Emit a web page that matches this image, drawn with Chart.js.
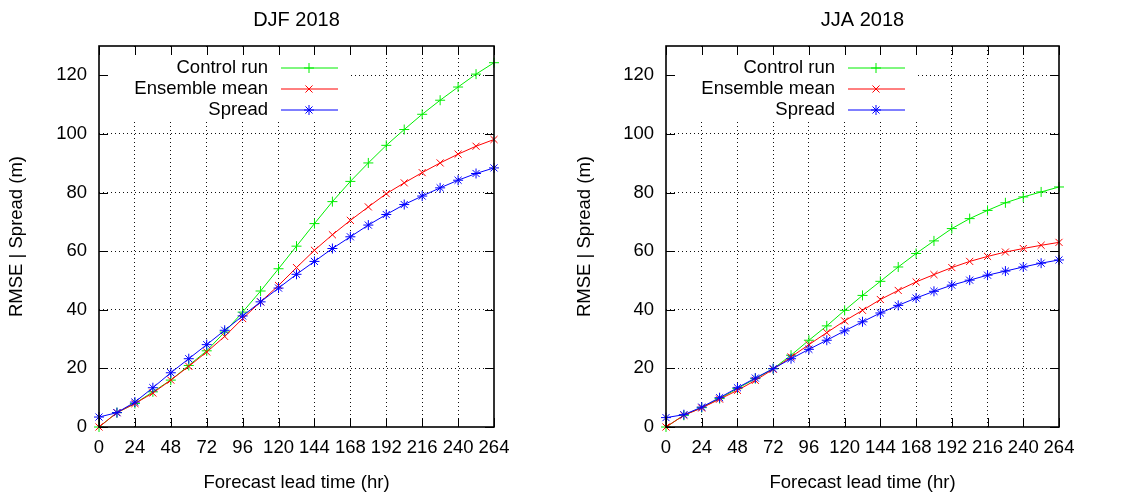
<!DOCTYPE html>
<html>
<head>
<meta charset="utf-8">
<script src="https://cdn.jsdelivr.net/npm/chart.js@4"></script>
<style>
  html, body { margin: 0; padding: 0; background: #fff; }
  #wrap { position: relative; width: 1123px; height: 498px; }
  canvas { position: absolute; top: 0; }
</style>
</head>
<body>
<div id="wrap">
  <canvas id="djf" width="560" height="498" style="left:0"></canvas>
  <canvas id="jja" width="563" height="498" style="left:560px"></canvas>
</div>
<script>
// forecast lead times (hr)
const leadHours = [0, 12, 24, 36, 48, 60, 72, 84, 96, 108, 120, 132, 144, 156, 168, 180, 192, 204, 216, 228, 240, 252, 264];
const xTickValues = [0, 24, 48, 72, 96, 120, 144, 168, 192, 216, 240, 264];
const yTickValues = [0, 20, 40, 60, 80, 100, 120];
const seriesNames = ['Control run', 'Ensemble mean', 'Spread'];

// DJF 2018
const djfControl = [0, 4.9, 8, 12, 16, 21, 26, 32.4, 39.2, 46.4, 54, 61.7, 69.4, 76.9, 83.8, 90.1, 96.1, 101.5, 106.7, 111.5, 116, 120.4, 124.3];
const djfEnsemble = [0, 4.9, 8, 11.6, 16, 20.7, 25.6, 30.9, 37, 42.7, 48.3, 54.4, 60.3, 65.6, 70.5, 75.1, 79.6, 83.3, 86.8, 90.1, 93.1, 95.8, 98.1];
const djfSpread = [3.4, 4.9, 8.5, 13.4, 18.5, 23.3, 28.1, 33, 37.9, 42.7, 47.4, 52.1, 56.5, 60.9, 64.9, 68.9, 72.5, 75.9, 78.8, 81.6, 84.2, 86.5, 88.4];

// JJA 2018
const jjaControl = [0, 4.0, 6.6, 9.7, 13.1, 16.5, 19.9, 24.5, 29.6, 34.5, 39.8, 44.9, 49.7, 54.6, 59.2, 63.5, 67.7, 71.1, 73.9, 76.5, 78.5, 80.2, 81.9];
const jjaEnsemble = [0, 4.0, 6.5, 9.5, 12.5, 15.9, 19.7, 23.9, 28.1, 32.2, 36.2, 39.8, 43.5, 46.6, 49.5, 52, 54.4, 56.5, 58.2, 59.7, 60.9, 62, 63];
const jjaSpread = [3.2, 4.2, 6.8, 10, 13.4, 16.7, 19.9, 23.3, 26.5, 29.6, 32.8, 35.9, 38.9, 41.5, 44, 46.3, 48.4, 50.1, 51.8, 53.2, 54.6, 55.9, 57];

const lineColors = ['#00ee00', '#ff0000', '#0000ff'];
const markers = ['cross', 'crossRot', 'star'];
const FONT = { family: '"Liberation Sans", Arial, sans-serif', size: 18.5 };

function toPoints(vals) {
  return leadHours.map((h, i) => ({ x: h, y: vals[i] }));
}

// gnuplot look: title, opaque key, inward ticks, solid border
const gnuplotFrame = {
  id: 'gnuplotFrame',
  beforeDatasetsDraw(chart) {
    const { ctx, chartArea: a } = chart;
    ctx.save();
    ctx.fillStyle = '#fff';
    ctx.fillRect(a.left + 1, a.top + 1, 251, 73);
    ctx.restore();
  },
  afterDatasetsDraw(chart) {
    const { ctx, chartArea: a } = chart;
    ctx.save();
    ctx.font = `${FONT.size}px ${FONT.family}`;
    ctx.textAlign = 'right';
    ctx.textBaseline = 'middle';
    chart.data.datasets.forEach((ds, i) => {
      const y = a.top + 22 + i * 21;
      ctx.fillStyle = '#000';
      ctx.fillText(ds.label, a.left + 169, y);
      ctx.strokeStyle = ds.borderColor;
      ctx.lineWidth = 1;
      ctx.beginPath();
      ctx.moveTo(a.left + 182, y);
      ctx.lineTo(a.left + 239, y);
      ctx.stroke();
      Chart.helpers.drawPoint(ctx, { pointStyle: ds.pointStyle, radius: 5, rotation: 0, borderWidth: 1 }, a.left + 210, y);
    });
    ctx.restore();
  },
  afterDraw(chart, args, opts) {
    const { ctx, chartArea: a, scales } = chart;
    ctx.save();
    ctx.strokeStyle = '#000';
    ctx.lineWidth = 1;
    ctx.beginPath();
    xTickValues.forEach(v => {
      const x = Math.round(scales.x.getPixelForValue(v)) + 0.5;
      ctx.moveTo(x, a.bottom); ctx.lineTo(x, a.bottom - 9);
      ctx.moveTo(x, a.top); ctx.lineTo(x, a.top + 9);
    });
    yTickValues.forEach(v => {
      const y = Math.round(scales.y.getPixelForValue(v)) + 0.5;
      ctx.moveTo(a.left, y); ctx.lineTo(a.left + 9, y);
      ctx.moveTo(a.right, y); ctx.lineTo(a.right - 9, y);
    });
    ctx.stroke();
    ctx.lineWidth = 1.6;
    ctx.strokeRect(a.left, a.top, a.right - a.left, a.bottom - a.top);
    ctx.font = `20px ${FONT.family}`;
    ctx.fillStyle = '#000';
    ctx.textAlign = 'center';
    ctx.textBaseline = 'middle';
    ctx.fillText(opts.text, (a.left + a.right) / 2, 20);
    ctx.restore();
  }
};

function makeChart(id, title, values, leftWidth, rightPad, yTitlePad) {
  const datasets = values.map((vals, i) => ({
    label: seriesNames[i],
    data: toPoints(vals),
    borderColor: lineColors[i],
    backgroundColor: lineColors[i],
    borderWidth: 1,
    pointStyle: markers[i],
    pointRadius: 5,
    pointBorderWidth: 1,
    tension: 0,
    clip: false,
    order: 3 - i
  }));
  return new Chart(document.getElementById(id), {
    type: 'line',
    data: { datasets },
    plugins: [gnuplotFrame],
    options: {
      responsive: false,
      animation: false,
      layout: { padding: { top: 46, right: rightPad, left: 0, bottom: 0 } },
      plugins: {
        legend: { display: false },
        tooltip: { enabled: false },
        gnuplotFrame: { text: title }
      },
      scales: {
        x: {
          type: 'linear',
          min: 0,
          max: 264,
          afterBuildTicks: s => { s.ticks = xTickValues.map(v => ({ value: v })); },
          afterFit: s => { s.height = 71; },
          ticks: { color: '#000', font: FONT, padding: 10, maxRotation: 0, autoSkip: false },
          grid: {
            drawTicks: false,
            color: c => (c.tick && (c.tick.value === 0 || c.tick.value === 264)) ? 'rgba(0,0,0,0)' : '#111',
            lineWidth: 1
          },
          border: { display: false, dash: [1, 3] },
          title: { display: true, text: 'Forecast lead time (hr)', color: '#000', font: FONT, padding: { top: 0, bottom: 4 } }
        },
        y: {
          min: 0,
          max: 130,
          afterBuildTicks: s => { s.ticks = yTickValues.map(v => ({ value: v })); },
          afterFit: s => { s.width = leftWidth; },
          ticks: { color: '#000', font: FONT, padding: 12 },
          grid: {
            drawTicks: false,
            color: c => (c.tick && c.tick.value === 0) ? 'rgba(0,0,0,0)' : '#111',
            lineWidth: 1
          },
          border: { display: false, dash: [1, 3] },
          title: { display: true, text: 'RMSE | Spread (m)', color: '#000', font: FONT, padding: { top: yTitlePad, bottom: 0 } }
        }
      }
    }
  });
}

makeChart('djf', 'DJF 2018', [djfControl, djfEnsemble, djfSpread], 99, 66, 6);
makeChart('jja', 'JJA 2018', [jjaControl, jjaEnsemble, jjaSpread], 106, 64, 14);
</script>
</body>
</html>
